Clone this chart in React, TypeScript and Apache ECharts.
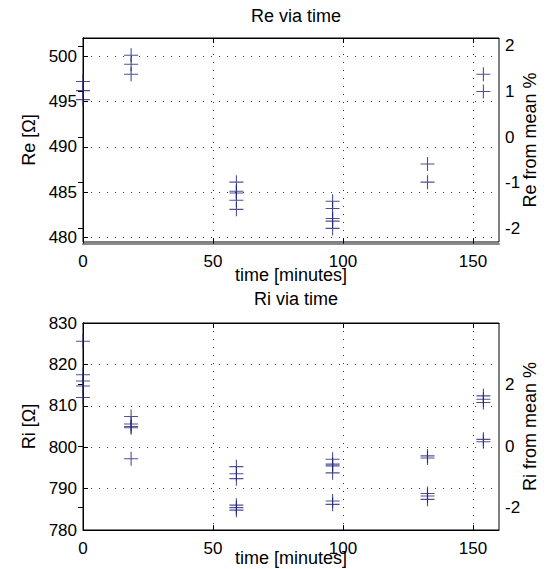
import React, { useEffect, useRef } from 'react';
import * as echarts from 'echarts';

// ---- data ----
const xTicks = [0, 50, 100, 150];

const reTimes = [0, 0, 0, 18.5, 18.5, 18.5, 59, 59, 59, 59, 59, 96, 96, 96, 96, 96, 132.5, 132.5, 154, 154];
const reValues = [497.2, 496.2, 495.2, 500.1, 499.1, 498.0, 486.1, 485.1, 484.9, 484.1, 483.1, 484.0, 483.2, 482.1, 481.8, 481.0, 488.1, 486.1, 498.0, 496.1];
const reLeftTicks = [480, 485, 490, 495, 500];
const reRightTicks = [-2, -1, 0, 1, 2];

const riTimes = [0, 0, 0, 0, 0, 18.5, 18.5, 18.5, 18.5, 18.5, 59, 59, 59, 59, 59, 59, 96, 96, 96, 96, 96, 96, 132.5, 132.5, 132.5, 132.5, 132.5, 154, 154, 154, 154, 154];
const riValues = [825.6, 817.5, 816.0, 814.8, 812.0, 807.4, 805.6, 805.0, 804.7, 797.2, 795.3, 793.6, 792.4, 786.0, 785.4, 784.8, 797.1, 795.9, 795.5, 793.8, 787.0, 786.2, 797.9, 797.4, 788.8, 788.2, 787.4, 812.4, 811.6, 810.8, 801.9, 801.3];
const riLeftTicks = [780, 790, 800, 810, 820, 830];
const riRightTicks = [-2, 0, 2];

const FONT = "'Liberation Sans', Arial, Helvetica, sans-serif";
const FS = 17;
const FN = 18;
const LABEL_MARGIN = 6;
const PLUS = 'path://M0,7L14,7M7,0L7,14';
const MARK = '#24247a';
const dotted = { show: true, lineStyle: { color: '#333', type: [1, 7] as any, width: 1 } };
const labelBase = { fontSize: FS, fontFamily: FONT, color: '#000' };

function xAxes(gridIndex: number, nameGap: number, lineColor: string, lineWidth: number, offset: number, margin: number) {
  return [
    {
      gridIndex, type: 'value', position: 'bottom', min: 0, max: 160, offset,
      name: 'time [minutes]', nameLocation: 'middle', nameGap, nameMoveOverlap: false,
      nameTextStyle: { fontSize: FN, fontFamily: FONT, color: '#000' },
      axisLine: { show: true, onZero: false, lineStyle: { color: lineColor, width: lineWidth } },
      axisTick: { show: true, inside: true, length: 5, customValues: [...xTicks], lineStyle: { color: '#000' } },
      axisLabel: { ...labelBase, customValues: [...xTicks], margin },
      splitLine: dotted,
    },
    {
      gridIndex, type: 'value', position: 'top', min: 0, max: 160,
      axisLine: { show: true, onZero: false, lineStyle: { color: '#000', width: 1 } },
      axisTick: { show: true, inside: true, length: 5, customValues: [...xTicks], lineStyle: { color: '#000' } },
      axisLabel: { show: false },
      splitLine: { show: false },
    },
  ];
}

function yAxes(gridIndex: number, lmin: number, lmax: number, lticks: number[], lname: string,
  rmin: number, rmax: number, rticks: number[], rname: string) {
  return [
    {
      gridIndex, type: 'value', position: 'left', min: lmin, max: lmax,
      name: lname, nameLocation: 'middle', nameGap: 44,
      nameTextStyle: { fontSize: FN, fontFamily: FONT, color: '#000' },
      axisLine: { show: true, lineStyle: { color: '#000', width: 1 } },
      axisTick: { show: true, inside: true, length: 5, customValues: [...lticks], lineStyle: { color: '#000' } },
      axisLabel: { ...labelBase, customValues: [...lticks], margin: LABEL_MARGIN },
      splitLine: dotted,
    },
    {
      gridIndex, type: 'value', position: 'right', min: rmin, max: rmax,
      name: rname, nameLocation: 'middle', nameGap: 22, nameMoveOverlap: false,
      nameTextStyle: { fontSize: FN, fontFamily: FONT, color: '#000' },
      axisLine: { show: true, lineStyle: { color: '#000', width: 1 } },
      axisTick: { show: true, inside: true, length: 5, customValues: [...rticks], lineStyle: { color: '#000' } },
      axisLabel: { ...labelBase, customValues: [...rticks], margin: 6 },
      splitLine: { show: false },
    },
  ];
}

const GRID_LEFT = 83;

export default function App() {
  const ref = useRef<HTMLDivElement>(null);
  useEffect(() => {
    if (!ref.current) return;
    const el = ref.current;
    const chart = echarts.init(el, null, { renderer: 'svg' });
    const titleStyle = { fontSize: FN, fontWeight: 'normal' as const, fontFamily: FONT, color: '#000' };
    chart.setOption({
      animation: false,
      backgroundColor: '#fff',
      title: [
        { text: 'Re via time', left: 291, top: 2, textAlign: 'center', textStyle: titleStyle },
        { text: 'Ri via time', left: 291, top: 285, textAlign: 'center', textStyle: titleStyle },
      ],
      grid: [
        { left: GRID_LEFT, top: 38, width: 416, height: 204, show: true, borderColor: '#000', borderWidth: 1, outerBoundsMode: 'none', containLabel: false },
        { left: GRID_LEFT, top: 323, width: 416, height: 207, show: true, borderColor: '#000', borderWidth: 1, outerBoundsMode: 'none', containLabel: false },
      ],
      xAxis: [...xAxes(0, 22, '#8a8a8a', 2, 1.6, 9), ...xAxes(1, 19, '#000', 1, 0, 10)],
      yAxis: [
        ...yAxes(0, 479.5, 502, reLeftTicks, 'Re [Ω]', -2.306, 2.175, reRightTicks, 'Re from mean %'),
        ...yAxes(1, 780, 830, riLeftTicks, 'Ri [Ω]', -2.73, 4.0, riRightTicks, 'Ri from mean %'),
      ],
      series: [
        {
          type: 'scatter', xAxisIndex: 0, yAxisIndex: 0,
          data: reTimes.map((t, i) => [t, reValues[i]]),
          symbol: PLUS, symbolSize: 14,
          itemStyle: { color: 'transparent', borderColor: MARK, borderWidth: 1.1 },
        },
        {
          type: 'scatter', xAxisIndex: 2, yAxisIndex: 2,
          data: riTimes.map((t, i) => [t, riValues[i]]),
          symbol: PLUS, symbolSize: 14,
          itemStyle: { color: 'transparent', borderColor: MARK, borderWidth: 1.1 },
        },
      ],
    });

    // Restore any left-axis tick label that is not visibly drawn at its tick.
    const timer = setTimeout(() => {
      const host = el.getBoundingClientRect();
      const nodes = Array.from(el.querySelectorAll('text')) as SVGTextElement[];
      const isVisible = (t: SVGTextElement) => {
        const r = t.getBoundingClientRect();
        if (r.width <= 0 || r.height <= 0) return false;
        const anyT = t as any;
        if (typeof anyT.checkVisibility === 'function' &&
          !anyT.checkVisibility({ opacityProperty: true, visibilityProperty: true })) return false;
        const op = parseFloat(t.getAttribute('opacity') || '1');
        const fo = parseFloat(t.getAttribute('fill-opacity') || '1');
        if (op === 0 || fo === 0) return false;
        const fill = (t.getAttribute('fill') || '').toLowerCase();
        if (fill === 'none' || fill === 'transparent') return false;
        return true;
      };
      const extra: any[] = [];
      const check = (ticks: number[], gridIndex: number) => {
        ticks.forEach((v) => {
          const p = chart.convertToPixel({ gridIndex }, [0, v]) as number[];
          const found = nodes.some((t) => {
            if ((t.textContent || '').trim() !== String(v)) return false;
            if (!isVisible(t)) return false;
            const r = t.getBoundingClientRect();
            const cy = r.top + r.height / 2 - host.top;
            const cx = r.left + r.width / 2 - host.left;
            return Math.abs(cy - p[1]) < 8 && cx < GRID_LEFT && cx > 0;
          });
          if (!found) {
            extra.push({
              type: 'text', x: GRID_LEFT - LABEL_MARGIN, y: p[1], silent: true, z: 100,
              style: {
                text: String(v), fill: '#000', fontSize: FS, fontFamily: FONT,
                align: 'right', textAlign: 'right', verticalAlign: 'middle', textVerticalAlign: 'middle',
              },
            });
          }
        });
      };
      check(reLeftTicks, 0);
      check(riLeftTicks, 1);
      if (extra.length) chart.setOption({ graphic: extra });
    }, 30);

    return () => { clearTimeout(timer); chart.dispose(); };
  }, []);
  return <div ref={ref} style={{ position: 'absolute', left: 0, top: 0, width: 552, height: 569 }} />;
}
